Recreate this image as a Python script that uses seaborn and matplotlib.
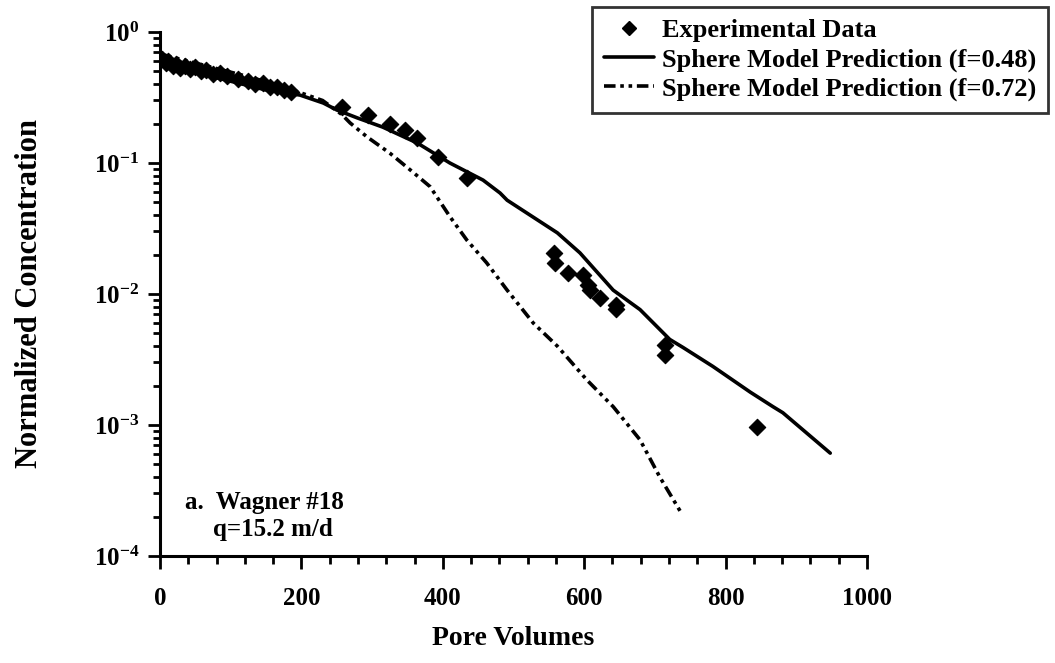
import numpy as np
import pandas as pd
import matplotlib
matplotlib.use("Agg")
import matplotlib.pyplot as plt
import seaborn as sns
from matplotlib.ticker import LogLocator, MultipleLocator, LogFormatterMathtext, NullFormatter
from matplotlib.lines import Line2D

# ---------------- data ----------------
exp_pv = [3, 8, 12, 18, 22, 28, 35, 42, 50, 58, 65, 75, 85, 95, 110, 125, 135, 145, 155, 165, 175, 185,
          257, 294, 325, 347, 364, 393, 434,
          557, 559, 577, 598, 605, 608, 622, 645, 645, 714, 714, 844]
exp_conc = [0.62, 0.58, 0.60, 0.55, 0.57, 0.53, 0.55, 0.52, 0.54, 0.50, 0.51, 0.48, 0.49, 0.46, 0.44, 0.42,
            0.40, 0.41, 0.38, 0.38, 0.36, 0.35,
            0.267, 0.232, 0.20, 0.179, 0.155, 0.111, 0.077,
            0.0206, 0.0173, 0.0145, 0.0140, 0.0117, 0.0107, 0.0093, 0.0077, 0.0083, 0.0041, 0.0034, 0.00097]

m048_pv = [0, 81, 151, 198, 231, 250, 279, 315, 364, 410, 457, 481, 491, 562, 594, 641, 679, 721, 740,
           782, 835, 867, 881, 948]
m048_c = [0.644, 0.446, 0.36, 0.33, 0.287, 0.254, 0.221, 0.188, 0.142, 0.10, 0.074, 0.059, 0.052, 0.0293,
          0.0206, 0.0107, 0.0076, 0.0045, 0.0039, 0.0028, 0.00178, 0.00138, 0.00124, 0.00061]

m072_pv = [0, 99, 127, 151, 188, 230, 257, 269, 293, 325, 354, 382, 410, 434, 462, 491, 528, 562, 604,
           641, 679, 707, 738]
m072_c = [0.68, 0.495, 0.453, 0.415, 0.36, 0.30, 0.235, 0.202, 0.158, 0.119, 0.0885, 0.066, 0.039, 0.0258,
          0.0173, 0.0107, 0.0060, 0.0040, 0.0022, 0.00138, 0.00077, 0.00040, 0.00021]

labels = ["Experimental Data", "Sphere Model Prediction (f=0.48)", "Sphere Model Prediction (f=0.72)"]
x_ticks = [0, 200, 400, 600, 800, 1000]

# ---------------- style ----------------
sns.set_theme(style="ticks")
plt.rcParams["font.family"] = ["Liberation Serif", "DejaVu Serif"]
plt.rcParams["font.weight"] = "bold"
plt.rcParams["mathtext.fontset"] = "custom"
plt.rcParams["mathtext.rm"] = "Liberation Serif:bold"
plt.rcParams["mathtext.bf"] = "Liberation Serif:bold"
plt.rcParams["mathtext.it"] = "Liberation Serif:italic:bold"
plt.rcParams["mathtext.default"] = "rm"
for key in ["text.color", "axes.labelcolor", "xtick.color", "ytick.color", "axes.edgecolor"]:
    plt.rcParams[key] = "black"

fig = plt.figure(figsize=(10.55, 6.63), dpi=100)
ax = fig.add_axes([160 / 1055, 1 - 556 / 663, (867 - 160) / 1055, (556 - 32) / 663])

df_exp = pd.DataFrame({"pv": exp_pv, "c": exp_conc})
df_048 = pd.DataFrame({"pv": m048_pv, "c": m048_c})
df_072 = pd.DataFrame({"pv": m072_pv, "c": m072_c})

dashdotdot = (0, (3.2, 1.3, 1.0, 1.3, 1.0, 1.3))
sns.lineplot(data=df_048, x="pv", y="c", ax=ax, color="black", lw=2.6, estimator=None, sort=False)
sns.lineplot(data=df_072, x="pv", y="c", ax=ax, color="black", lw=2.6, linestyle=dashdotdot,
             estimator=None, sort=False)
sns.scatterplot(data=df_exp, x="pv", y="c", ax=ax, marker="D", color="black", s=70, edgecolor="black",
                linewidth=0.8, zorder=3)

ax.set_yscale("log")
ax.set_xlim(0, 1000)
ax.set_ylim(1e-4, 1)
ax.set_xticks(x_ticks)
ax.xaxis.set_minor_locator(MultipleLocator(40))
ax.yaxis.set_major_locator(LogLocator(base=10, numticks=10))
ax.yaxis.set_minor_locator(LogLocator(base=10, subs=np.arange(2, 10), numticks=20))
ax.yaxis.set_major_formatter(LogFormatterMathtext())
ax.yaxis.set_minor_formatter(NullFormatter())

for s in ["top", "right"]:
    ax.spines[s].set_visible(False)
for s in ["left", "bottom"]:
    ax.spines[s].set_linewidth(2.2)
    ax.spines[s].set_color("black")

ax.tick_params(axis="x", which="major", direction="out", length=9, width=2, pad=13, labelsize=18,
               colors="black")
ax.tick_params(axis="x", which="minor", direction="out", length=6, width=2, colors="black")
ax.tick_params(axis="y", which="major", direction="out", length=9, width=2, pad=6, labelsize=18,
               colors="black")
ax.tick_params(axis="y", which="minor", direction="out", length=5, width=2, colors="black")

ax.set_xlabel("Pore Volumes", fontsize=20, fontweight="bold", labelpad=12, color="black")
ax.set_ylabel("Normalized Concentration", fontsize=22, fontweight="bold", labelpad=36, color="black")
ax.grid(False)

ax.text(0.035, 0.103, "a.  Wagner #18", transform=ax.transAxes, fontsize=18, fontweight="bold",
        va="center", ha="left", color="black")
ax.text(0.075, 0.050, "q=15.2 m/d", transform=ax.transAxes, fontsize=18, fontweight="bold",
        va="center", ha="left", color="black")

handles = [
    Line2D([], [], marker="D", color="black", linestyle="none", markersize=7.5),
    Line2D([], [], color="black", lw=2.6),
    Line2D([], [], color="black", lw=2.6, linestyle=dashdotdot),
]
leg = fig.legend(handles, labels, loc="upper right", bbox_to_anchor=(1048 / 1055, 1 - 7 / 663),
                 fontsize=19, frameon=True, fancybox=False, handlelength=1.9, handletextpad=0.3,
                 labelspacing=0.2, borderpad=0.45, borderaxespad=0)
leg.get_frame().set_edgecolor("black")
leg.get_frame().set_linewidth(2.0)
leg.get_frame().set_facecolor("white")
for t in leg.get_texts():
    t.set_fontweight("bold")
    t.set_color("black")

fig.savefig("out.png", dpi=100)
